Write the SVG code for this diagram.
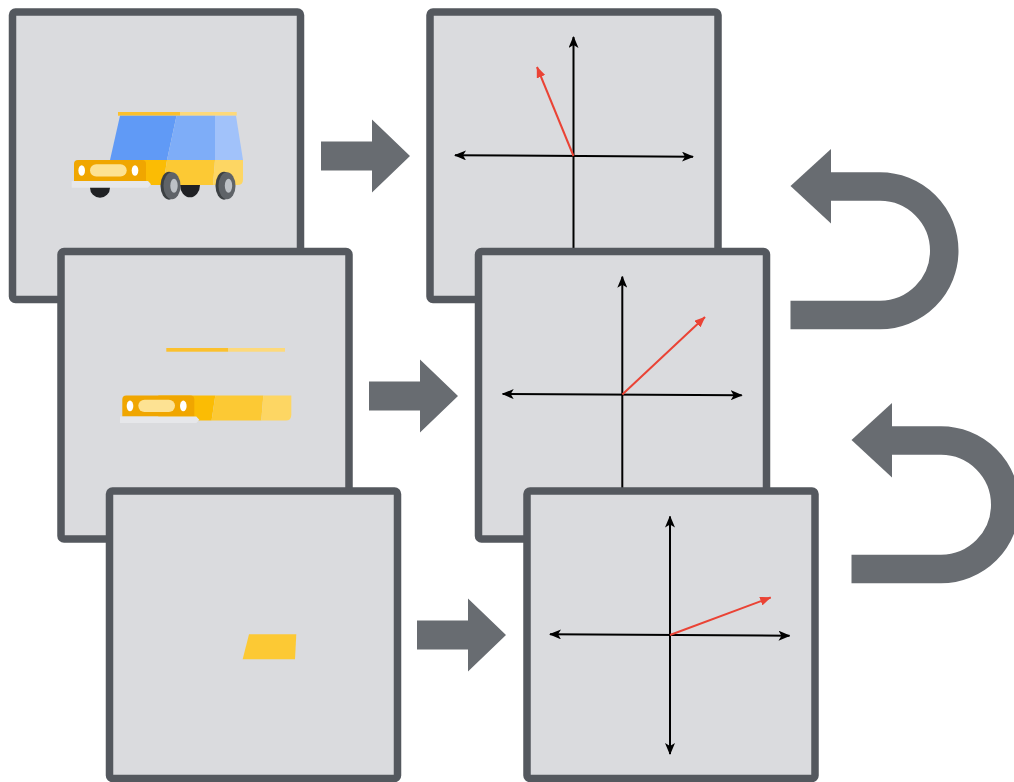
<svg xmlns="http://www.w3.org/2000/svg" width="1014" height="782" viewBox="0 0 1014 782">
  <style>
    .panel { fill: #dadbde; stroke: #54585e; stroke-width: 7.5; }
    .axis { fill: none; stroke: #000; stroke-width: 2; marker-start: url(#axisHead); marker-end: url(#axisHead); }
    .vec { fill: none; stroke: #ea4335; stroke-width: 2; marker-end: url(#vecHead); }
    .flow { fill: #686c71; }
    .uturn { fill: none; stroke: #686c71; stroke-width: 28.5; }
  </style>
  <defs>
    <marker id="axisHead" viewBox="0 0 12 10" refX="11" refY="5" markerWidth="12" markerHeight="10" markerUnits="userSpaceOnUse" orient="auto-start-reverse">
      <path d="M0,0 L12,5 L0,10 L3,5 Z" fill="#000"/>
    </marker>
    <marker id="vecHead" viewBox="0 0 11 9" refX="10.5" refY="4.5" markerWidth="11" markerHeight="9" markerUnits="userSpaceOnUse" orient="auto">
      <path d="M0,0 L11,4.5 L0,9 Z" fill="#ea4335"/>
    </marker>

    <!-- roof trim strip of the car -->
    <g id="roofStrip">
      <rect x="118" y="112" width="62" height="3.7" fill="#fbc02d"/>
      <rect x="180" y="112" width="56.7" height="3.7" fill="#fdd97a"/>
    </g>

    <!-- lower body band: side panels, grille, lights, bumper -->
    <g id="bodyBand">
      <polygon points="110,160 167,160 163.3,185 110,185" fill="#fbbc04"/>
      <polygon points="167,160 215,160 213,185 163.3,185" fill="#fcc934"/>
      <path d="M215,160 H243 V179.5 Q243,185 237.5,185 H213 Z" fill="#fdd663"/>
      <path d="M74,181 V164 Q74,160 78,160 H142 Q146,160 146,164 V181 Z" fill="#f0a600"/>
      <ellipse cx="81.7" cy="170.5" rx="3.3" ry="5.3" fill="#fff"/>
      <ellipse cx="135" cy="170.5" rx="3.3" ry="5.3" fill="#fff"/>
      <rect x="90" y="164.3" width="36.7" height="12.3" rx="6.2" fill="#fde293"/>
      <path d="M71.7,181 H148 L151,184.3 L148,187.7 H71.7 Z" fill="#e6e7ea"/>
    </g>

    <!-- wide flow arrow, pointing right -->
    <polygon id="flowArrow" points="321,141.5 372,141.5 372,119.5 410,156 372,192.5 372,170.5 321,170.5"/>

    <!-- U-turn arrow pointing back left -->
    <g id="uTurn">
      <path class="uturn" d="M829,186.5 H880 A64.25,64.25 0 0 1 880,315 H790.5"/>
      <polygon class="flow" points="790.5,186 831,149 831,223.5"/>
    </g>
  </defs>

  <!-- left column: images -->
  <g id="image-full">
    <rect class="panel" x="12.5" y="12" width="288" height="287.5" rx="3"/>
    <use href="#roofStrip"/>
    <polygon points="120,115.7 176.5,115.7 167,160 110,160" fill="#609af6"/>
    <polygon points="176.5,115.7 215,115.7 215,160 167,160" fill="#7eadf8"/>
    <polygon points="215,115.7 236,115.7 243,160 215,160" fill="#a1c2fa"/>
    <use href="#bodyBand"/>
    <path d="M90,187.7 A10,10 0 0 0 110,187.7 Z" fill="#202124"/>
    <path d="M180,185 A10,12.3 0 0 0 200,185 Z" fill="#202124"/>
    <ellipse cx="169" cy="185.7" rx="8.5" ry="14" fill="#3c4043"/>
    <ellipse cx="172" cy="185.7" rx="8.5" ry="13.5" fill="#5f6368"/>
    <ellipse cx="174" cy="185.7" rx="3.7" ry="7" fill="#bdc1c6"/>
    <ellipse cx="224" cy="185.7" rx="8.5" ry="14" fill="#3c4043"/>
    <ellipse cx="227" cy="185.7" rx="8.5" ry="13.5" fill="#5f6368"/>
    <ellipse cx="228.5" cy="185.7" rx="3.7" ry="7" fill="#bdc1c6"/>
  </g>

  <g id="image-slice">
    <rect class="panel" x="61" y="251.5" width="288" height="287.5" rx="3"/>
    <use href="#roofStrip" transform="translate(48.3,236)"/>
    <use href="#bodyBand" transform="translate(48.3,235.4)"/>
  </g>

  <g id="image-patch">
    <rect class="panel" x="109.5" y="491" width="288" height="287.5" rx="3"/>
    <polygon points="249,634.3 296.3,634.3 295,659.3 242.7,659.3" fill="#fcc934"/>
  </g>

  <!-- right column: vector plots -->
  <g id="plot-1">
    <rect class="panel" x="430" y="12" width="288" height="287.5" rx="3"/>
    <line class="axis" x1="455" y1="155.3" x2="693" y2="156.7"/>
    <line class="axis" x1="573.5" y1="37" x2="573.5" y2="275"/>
    <line class="vec" x1="573.5" y1="156" x2="537" y2="67"/>
  </g>

  <g id="plot-2">
    <rect class="panel" x="478.5" y="251.5" width="288" height="287.5" rx="3"/>
    <line class="axis" x1="502.7" y1="394" x2="741.7" y2="395.3"/>
    <line class="axis" x1="622.3" y1="276.7" x2="622.3" y2="514"/>
    <line class="vec" x1="622.3" y1="394.5" x2="705" y2="317"/>
  </g>

  <g id="plot-3">
    <rect class="panel" x="527" y="491" width="288" height="287.5" rx="3"/>
    <line class="axis" x1="550" y1="634.3" x2="789.5" y2="635.7"/>
    <line class="axis" x1="670" y1="516.5" x2="670" y2="754"/>
    <line class="vec" x1="670" y1="635" x2="770.7" y2="597.5"/>
  </g>

  <!-- connectors -->
  <g id="connectors">
    <use href="#flowArrow" class="flow"/>
    <use href="#flowArrow" class="flow" transform="translate(48,240)"/>
    <use href="#flowArrow" class="flow" transform="translate(96,479)"/>
    <use href="#uTurn"/>
    <use href="#uTurn" transform="translate(61,254)"/>
  </g>
</svg>
